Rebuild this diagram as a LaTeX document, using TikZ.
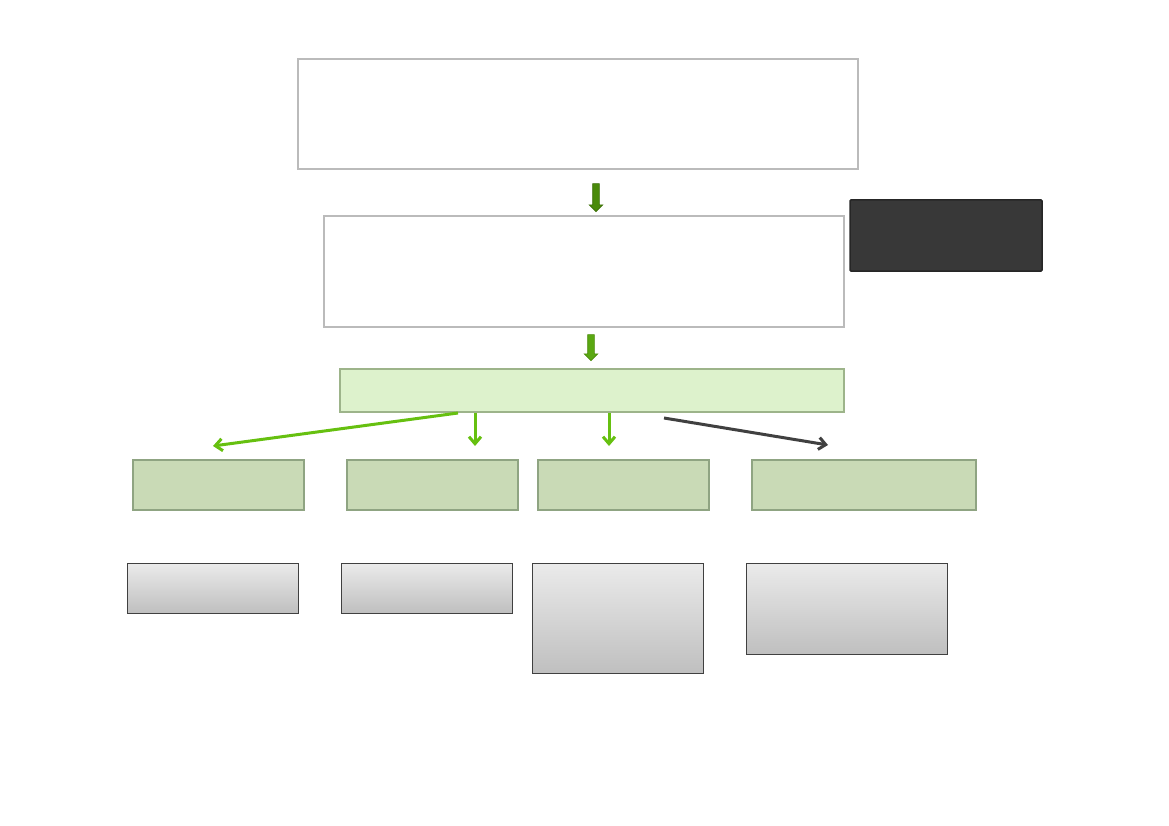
\documentclass[tikz,border=0pt]{standalone}
\usepackage{tikz}
\usetikzlibrary{arrows.meta,shapes,positioning,calc}

\definecolor{framegray}{HTML}{BBBBBB}
\definecolor{darkbox}{HTML}{383838}
\definecolor{barfill}{HTML}{DDF2CC}
\definecolor{barline}{HTML}{9DB48A}
\definecolor{cellfill}{HTML}{C9DAB6}
\definecolor{cellline}{HTML}{8FA482}
\definecolor{linkgreen}{HTML}{66C010}
\definecolor{linkdark}{HTML}{404040}
\definecolor{blockdark}{HTML}{4A8A0A}
\definecolor{blocklight}{HTML}{5AA812}

\begin{document}
\begin{tikzpicture}[
x=1pt, y=-1pt, >={Straight Barb[length=7pt,width=12pt]},
frame-node/.style = {rectangle,draw=framegray,line width=2.2pt,fill=white,inner sep=0pt},
dark-node/.style = {rectangle,draw=black!85,line width=1.5pt,fill=darkbox,rounded corners=1pt,inner sep=0pt,minimum width=192pt,minimum height=71pt},
bar-node/.style = {rectangle,draw=barline,line width=2pt,fill=barfill,inner sep=0pt,minimum width=504pt,minimum height=43pt},
cell-node/.style = {rectangle,draw=cellline,line width=2.4pt,fill=cellfill,inner sep=0pt,minimum height=50pt},
leaf-node/.style = {rectangle,draw=black!75,line width=1pt,top color=black!8,bottom color=black!25,inner sep=0pt},
block-arrow/.style = {single arrow,rotate=270,inner sep=3pt,minimum height=28pt,single arrow head extend=3.5pt,single arrow head indent=0pt,line width=0.6pt},
green-link/.style = {->,draw=linkgreen,line width=3pt},
dark-link/.style = {->,draw=linkdark,line width=3pt}
]

\useasboundingbox (0,0) rectangle (1169,826);

\node [frame-node,minimum width=560pt,minimum height=110pt] (source) at (578,114) {};
\node [frame-node,minimum width=520pt,minimum height=111pt] (process) at (584,271.5) {};
\node [dark-node] (note) at (946,235.5) {};
\node [bar-node] (hub) at (592,390.5) {};

% second row
\node [cell-node,minimum width=171pt] (c1) at (218.5,485) {};
\node [cell-node,minimum width=171pt] (c2) at (432.5,485) {};
\node [cell-node,minimum width=171pt] (c3) at (623.5,485) {};
\node [cell-node,minimum width=224pt] (c4) at (864,485) {};

% third row
\node [leaf-node,minimum width=171pt,minimum height=50pt] (l1) at (212.5,588) {};
\node [leaf-node,minimum width=171pt,minimum height=50pt] (l2) at (426.5,588) {};
\node [leaf-node,minimum width=171pt,minimum height=110pt] (l3) at (617.5,618) {};
\node [leaf-node,minimum width=201pt,minimum height=91pt] (l4) at (846.5,608.5) {};

% block arrows
\node [block-arrow,draw=blockdark!80!black,fill=blockdark] (down1) at (596,196) {};
\node [block-arrow,draw=blockdark,fill=blocklight,minimum height=26pt] (down2) at (591,346) {};

% link ends
\coordinate (e1) at (213,446);
\coordinate (e2) at (475,446);
\coordinate (e3) at (609,446);
\coordinate (e4) at (828,445);

% arrows
\draw[green-link] ($(hub.south west)+(119,0)$) -- (e1);
\draw[green-link] (e2 |- hub.south) -- (e2);
\draw[green-link] (e3 |- hub.south) -- (e3);
\draw[dark-link] ($(hub.south west)+(325,5)$) -- (e4);

\end{tikzpicture}
\end{document}
